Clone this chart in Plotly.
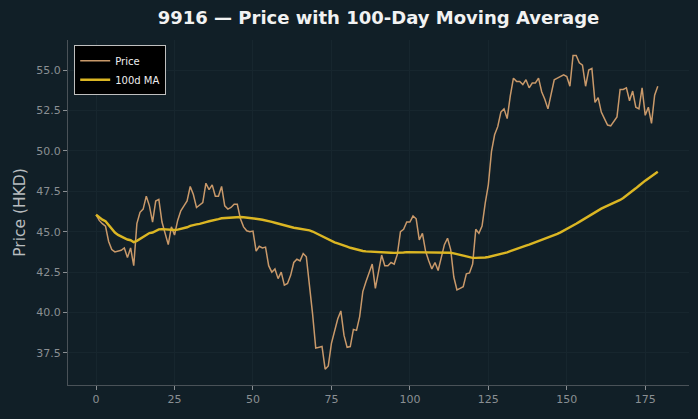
import numpy as np
import pandas as pd
import plotly.graph_objects as go

days = list(range(180))
price = [
    46.05, 45.7, 45.5, 45.35, 44.4, 43.9, 43.75, 43.8, 43.85, 44.0,
    43.4, 44.0, 42.9, 45.5, 46.2, 46.4, 47.2, 46.6, 45.6, 46.9,
    47.0, 45.6, 44.9, 44.2, 45.3, 44.8, 45.7, 46.3, 46.6, 46.9,
    47.8, 47.3, 46.5, 46.65, 46.8, 48.0, 47.6, 47.9, 47.2, 47.2,
    47.8, 46.6, 46.4, 46.5, 46.7, 46.7, 45.8, 45.3, 45.06, 45.0,
    45.04, 43.8, 44.1, 44.0, 44.05, 42.9, 42.5, 42.7, 42.1, 42.5,
    41.7, 41.8, 42.3, 43.1, 43.3, 43.2, 43.65, 43.45, 41.8, 39.9,
    37.8, 37.85, 37.9, 36.5, 36.7, 38.1, 38.8, 39.6, 40.1, 38.6,
    37.85, 37.9, 38.96, 38.9, 39.75, 41.3, 41.9, 42.4, 43.0, 41.5,
    42.6, 43.56, 42.9, 42.9, 43.1, 43.0, 43.6, 45.0, 45.15, 45.6,
    45.6, 45.97, 45.8, 44.5, 44.9, 43.8, 43.2, 42.7, 43.1, 42.6,
    43.4, 44.2, 44.6, 43.9, 42.2, 41.4, 41.5, 41.6, 42.4, 42.45,
    43.0, 45.15, 44.9, 45.35, 46.75, 47.9, 49.95, 51.0, 51.5, 52.4,
    52.6, 52.0, 53.4, 54.5, 54.3, 54.3, 54.1, 54.4, 53.9, 54.2,
    54.2, 54.5, 53.66, 53.2, 52.6, 53.5, 54.4, 54.5, 54.6, 54.7,
    54.6, 54.0, 55.9, 55.9, 55.45, 55.3, 54.0, 55.0, 55.1, 53.0,
    53.3, 52.4, 52.0, 51.6, 51.55, 51.8, 52.1, 53.8, 53.8, 53.9,
    53.1, 53.7, 52.7, 52.6, 53.9, 52.2, 52.7, 51.7, 53.45, 54.0,
]
ma100 = pd.Series(price).rolling(100, min_periods=1).mean().tolist()

x_ticks = [0, 25, 50, 75, 100, 125, 150, 175]
y_ticks = [37.5, 40.0, 42.5, 45.0, 47.5, 50.0, 52.5, 55.0]

BG = "#111f27"
GRID = "#17262e"
TICK = "#8a8f93"
SPINE = "#4a5258"

fig = go.Figure()
fig.add_trace(go.Scatter(x=days, y=price, mode="lines", name="Price",
                         line=dict(color="#c9996a", width=1.5)))
fig.add_trace(go.Scatter(x=days, y=ma100, mode="lines", name="100d MA",
                         line=dict(color="#dbb623", width=2.4)))

fig.update_layout(
    width=698, height=419,
    paper_bgcolor=BG, plot_bgcolor=BG,
    margin=dict(l=68, r=9, t=40, b=34),
    font=dict(family="DejaVu Sans", color=TICK, size=11),
    title=dict(text="<b>9916 — Price with 100-Day Moving Average</b>",
               x=0.5, xref="paper", xanchor="center", y=0.957, yanchor="middle",
               font=dict(family="DejaVu Sans", size=18, color="#f2f2f2")),
    showlegend=True,
    legend=dict(x=0.01, y=0.985, xanchor="left", yanchor="top",
                bgcolor="#000000", bordercolor="#bfbfbf", borderwidth=1,
                font=dict(family="DejaVu Sans", size=10, color="#eeeeee"),
                tracegroupgap=0, itemwidth=30),
)
fig.update_xaxes(
    range=[-8.95, 188.95], tickmode="array", tickvals=x_ticks,
    ticks="outside", ticklen=4, tickcolor=TICK, tickfont=dict(color=TICK, size=11),
    showgrid=True, gridcolor=GRID, gridwidth=1, zeroline=False,
    showline=True, linecolor=SPINE, linewidth=1,
)
fig.update_yaxes(
    range=[35.52, 56.86], tickmode="array", tickvals=y_ticks,
    ticktext=[f"{v:.1f}" for v in y_ticks],
    ticks="outside", ticklen=4, tickcolor=TICK, tickfont=dict(color=TICK, size=11),
    showgrid=True, gridcolor=GRID, gridwidth=1, zeroline=False,
    showline=True, linecolor=SPINE, linewidth=1,
    title=dict(text="Price (HKD)", font=dict(family="DejaVu Sans", size=15.5, color="#b8bcbf"),
               standoff=6),
)
fig.write_html("out.html")
